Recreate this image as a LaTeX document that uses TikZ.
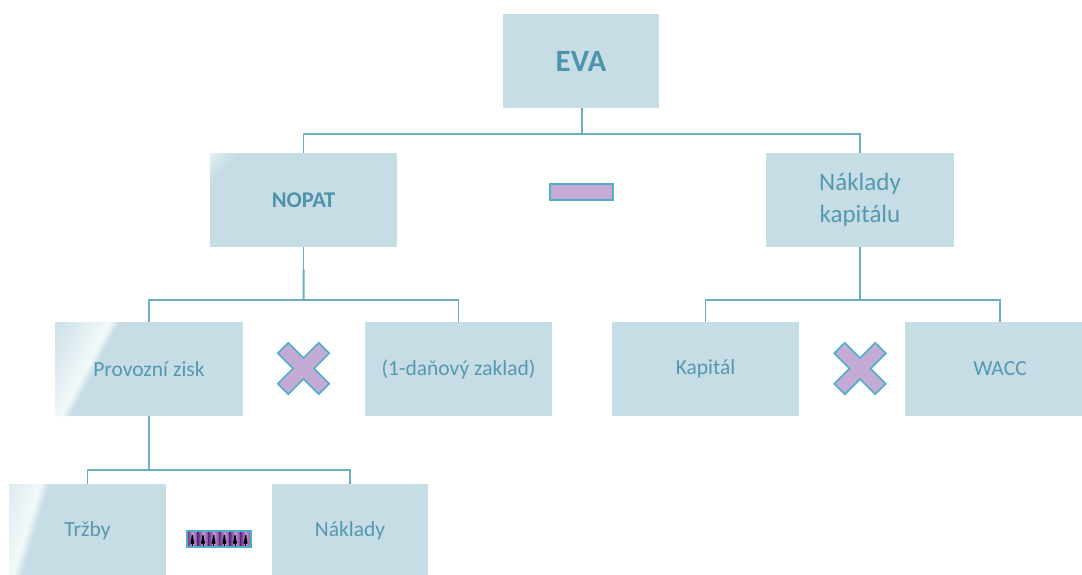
\documentclass[tikz,border=0pt]{standalone}
\usepackage{fontspec}
\setmainfont{Carlito}
\usetikzlibrary{calc}

\definecolor{boxfill}{HTML}{C6DDE5}
\definecolor{boxtext}{HTML}{5598B0}
\definecolor{boldtext}{HTML}{4E93AC}
\definecolor{linec}{HTML}{6AAEC4}
\definecolor{opfill}{HTML}{C3ABD5}
\definecolor{opline}{HTML}{4FAFC8}
\definecolor{barlight}{HTML}{C29BD8}
\definecolor{bardark}{HTML}{5E2A7E}

\pgfdeclarelayer{fills}
\pgfdeclarelayer{glass}
\pgfsetlayers{fills,glass,main}

\tikzset{
  box/.style={inner sep=0pt, outer sep=0pt, text=boxtext, align=center,
              font=\fontsize{21.5}{26}\selectfont},
  conn/.style={draw=linec, line width=1.1pt},
  trunk/.style={draw=linec, line width=2pt},
  opshape/.style={fill=opfill, draw=opline, line width=1.6pt, line join=miter},
}

% glossy diagonal streak inside a box: #1 node, #2/#3 top point of the streak,
% #4 slant, #5 box height
\newcommand\glassstreak[5]{%
  \begin{scope}
    \clip (#1.south west) rectangle (#1.north east);
    \begin{scope}[transform canvas={shift={(#2,#3)}, xslant=#4}]
      \fill[white!16!boxfill] (-300,0) rectangle (-50,#5);
      \shade[left color=white!16!boxfill, right color=white!80!boxfill] (-50,0) rectangle (0.2,#5);
      \shade[left color=white!80!boxfill, right color=boxfill] (0,0) rectangle (9,#5);
    \end{scope}
  \end{scope}}

% cross operator centred at #1
\newcommand\crossop[1]{%
  \begin{scope}[shift={#1}, rotate=45]
    \draw[opshape] (7.5,29) -- (7.5,7.5) -- (29,7.5) -- (29,-7.5) -- (7.5,-7.5)
      -- (7.5,-29) -- (-7.5,-29) -- (-7.5,-7.5) -- (-29,-7.5) -- (-29,7.5)
      -- (-7.5,7.5) -- (-7.5,29) -- cycle;
  \end{scope}}

\begin{document}
\begin{tikzpicture}[x=1pt,y=-1pt]
\path[use as bounding box, clip] (0,0) rectangle (1082,574);

% boxes
\node[box, minimum width=156, minimum height=94, text=boldtext,
      font=\bfseries\fontsize{31}{36}\selectfont] (eva) at (581,61) {EVA};
\node[box, minimum width=187, minimum height=94, text=boldtext,
      font=\bfseries\fontsize{22.5}{26}\selectfont] (nopat) at (303.5,200) {NOPAT};
\node[box, minimum width=188, minimum height=94,
      font=\fontsize{25}{32}\selectfont] (nk) at (860,200) {Náklady\\kapitálu};
\node[box, minimum width=188, minimum height=94] (pz) at (149,369) {Provozní zisk};
\node[box, minimum width=187, minimum height=94] (dz) at (458.5,369) {(1-daňový zaklad)};
\node[box, minimum width=187, minimum height=94] (kap) at (705.5,369) {Kapitál};
\node[box, minimum width=190, minimum height=94] (wacc) at (1000,369) {WACC};
\node[box, minimum width=157, minimum height=94] (trz) at (87.5,531) {Tržby};
\node[box, minimum width=156, minimum height=94] (nak) at (350,531) {Náklady};

\begin{pgfonlayer}{fills}
  \foreach \n in {eva,nopat,nk,pz,dz,kap,wacc,trz,nak}
    \fill[boxfill] (\n.south west) rectangle (\n.north east);
\end{pgfonlayer}

\begin{pgfonlayer}{glass}
  \glassstreak{pz}{110}{322}{0.52}{94}
  \glassstreak{trz}{40}{484}{0.30}{94}
  \begin{scope}
    \clip (nopat.south west) rectangle (nopat.north east);
    \begin{scope}[transform canvas={shift={(238,153)}, xslant=1}]
      \shade[left color=white!55!boxfill, right color=boxfill] (-30,0) rectangle (0.5,28);
    \end{scope}
  \end{scope}
\end{pgfonlayer}

% connectors: EVA level
\coordinate (b1) at (582,134);
\draw[trunk] (eva.south -| b1) -- (b1);
\draw[conn] (nopat.north) |- (b1) -| (nk.north);

% NOPAT level
\path (nopat.south) ++(0,53) coordinate (b2);
\draw[conn] (nopat.south) -- (b2);
\draw[trunk] ($(nopat.south)!0.42!(b2)$) -- (b2);
\draw[conn] (pz.north) |- (b2) -| (dz.north);

% cost of capital level
\path (nk.south) ++(0,53) coordinate (b3);
\draw[conn] (nk.south) -- (b3);
\draw[trunk] ($(nk.south)!0.42!(b3)$) -- (b3);
\draw[conn] (kap.north) |- (b3) -| (wacc.north);

% operating profit level
\path (pz.south) ++(0,54) coordinate (b4);
\draw[conn] (pz.south) -- (b4);
\draw[trunk] ($(pz.south)!0.41!(b4)$) -- (b4);
\draw[conn] (trz.north) |- (b4) -| (nak.north);

% operators
\node[opshape, minimum width=63, minimum height=16, inner sep=0pt] (minus) at (581.5,192) {};
\crossop{(303.5,368.5)}
\crossop{(860,368.5)}

% patterned operator between revenue and costs
\node[inner sep=0pt, outer sep=0pt, minimum width=64, minimum height=16] (mul) at (219,539) {};
\foreach \i in {0,...,5}{
  \pgfmathsetmacro\xa{187+\i*64/6}
  \pgfmathsetmacro\xb{187+(\i+1)*64/6}
  \pgfmathsetmacro\cx{187+(\i+0.5)*64/6}
  \shade[left color=bardark, right color=bardark!70!barlight, middle color=barlight]
    (\xa,531) rectangle (\xb,547);
  \fill[black] (\cx-0.6,535) -- (\cx+0.6,535) -- (\cx+1.5,541.5) -- (\cx-1.5,541.5) -- cycle;
  \fill[black] (\cx,542.3) circle (2);
  \draw[black, line width=0.7pt] (\cx,543) -- (\cx,546.5);
}
\draw[opline, line width=1.6pt] (mul.south west) rectangle (mul.north east);
\end{tikzpicture}
\end{document}
